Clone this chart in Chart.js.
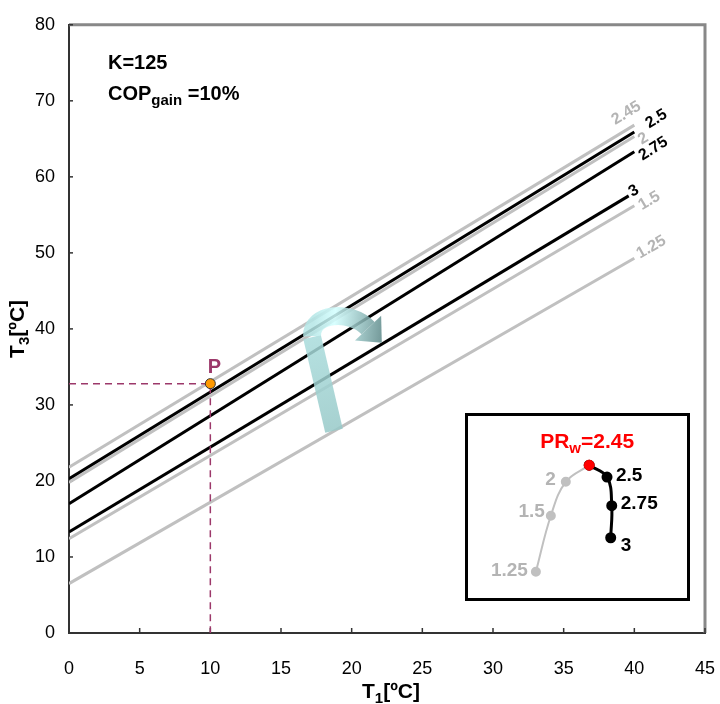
<!DOCTYPE html>
<html>
<head>
<meta charset="utf-8">
<script src="https://cdn.jsdelivr.net/npm/chart.js@4.4.1/dist/chart.umd.min.js"></script>
<style>
html, body { margin: 0; padding: 0; background: #fff; overflow: hidden; }
#wrap { position: relative; width: 720px; height: 704px; }
#main { display: block; }
#insetBox { position: absolute; left: 465px; top: 413px; width: 219px; height: 182px; border: 3px solid #000; background: #fff; }
#inset { display: block; }
</style>
</head>
<body>
<div id="wrap">
  <canvas id="main" width="720" height="704"></canvas>
  <div id="insetBox"><canvas id="inset" width="219" height="182"></canvas></div>
</div>
<script>
// main chart: T3 against T1, one line per pressure ratio
const t1Ticks = [0, 5, 10, 15, 20, 25, 30, 35, 40, 45];
const t3Ticks = [0, 10, 20, 30, 40, 50, 60, 70, 80];
const prLines = ['2.45', '2.5', '2', '2.75', '3', '1.5', '1.25'];
const t1Start = [0, 0, 0, 0, 0, 0, 0];
const t1End = [40, 40, 40, 40, 39.6, 40, 40];
const t3Start = [21.8, 20.3, 19.8, 17.0, 13.3, 12.4, 6.5];
const t3End = [66.8, 65.9, 65.3, 63.3, 57.5, 56.2, 49.3];
const pT1 = [10];
const pT3 = [32.8];

// inset curve
const insetPR = ['1.25', '1.5', '2', '2.45', '2.5', '2.75', '3'];
const insetX = [29.7, 37.0, 44.3, 55.7, 64.4, 66.7, 66.2];
const insetY = [11.5, 44.8, 65.0, 74.9, 67.8, 50.8, 31.7];
const optimumPR = '2.45';

const FONT = "'Liberation Sans', Arial, sans-serif";
const GRAY = '#c0c0c0';
const PURPLE = '#9c386a';

function isBlack(pr) { return parseFloat(pr) > parseFloat(optimumPR); }

function drawRich(ctx, parts, x, y, align) {
  let w = 0;
  parts.forEach(p => { ctx.font = 'bold ' + p[1] + 'px ' + FONT; w += ctx.measureText(p[0]).width; });
  let cx = align === 'center' ? x - w / 2 : (align === 'right' ? x - w : x);
  ctx.textAlign = 'left';
  ctx.textBaseline = 'alphabetic';
  parts.forEach(p => {
    ctx.font = 'bold ' + p[1] + 'px ' + FONT;
    ctx.fillText(p[0], cx, y + p[2]);
    cx += ctx.measureText(p[0]).width;
  });
}

const lineSets = prLines.map((pr, i) => ({
  label: pr,
  data: [{ x: t1Start[i], y: t3Start[i] }, { x: t1End[i], y: t3End[i] }],
  showLine: true,
  borderColor: isBlack(pr) ? '#000' : GRAY,
  borderWidth: 3,
  pointRadius: 0,
  order: isBlack(pr) ? 1 : 2
}));

// label offsets from line end, px
const endLabelOffset = { '2.45': [-8, -12], '2.5': [22, -13], '2': [9, 2], '2.75': [19, -3], '3': [5, -5], '1.5': [15, -5], '1.25': [17, -11] };
// curved arrow, in data units
const arrowPath = { p0: [18.75, 26.6], p1: [17.2, 39.05], c1: [17.13, 42.07], c2: [19.89, 42.6], p2: [21.16, 40.1] };

const mainDecor = {
  id: 'mainDecor',
  beforeDatasetsDraw(chart) {
    const { ctx, chartArea: a, scales: { x, y } } = chart;
    ctx.save();
    ctx.strokeStyle = '#888';
    ctx.lineWidth = 3;
    ctx.beginPath();
    ctx.moveTo(a.left, a.top);
    ctx.lineTo(a.right, a.top);
    ctx.lineTo(a.right, a.bottom);
    ctx.stroke();
    ctx.strokeStyle = '#333';
    ctx.lineWidth = 1.5;
    t1Ticks.forEach(v => {
      const px = x.getPixelForValue(v);
      ctx.beginPath(); ctx.moveTo(px, a.bottom); ctx.lineTo(px, a.bottom - 5); ctx.stroke();
    });
    t3Ticks.forEach(v => {
      const py = y.getPixelForValue(v);
      ctx.beginPath(); ctx.moveTo(a.left, py); ctx.lineTo(a.left + 4, py); ctx.stroke();
    });
    ctx.restore();
  },
  afterDatasetsDraw(chart) {
    const { ctx, chartArea: a, scales: { x, y } } = chart;
    const px = p => [x.getPixelForValue(p[0]), y.getPixelForValue(p[1])];
    ctx.save();

    // curved arrow
    const P0 = px(arrowPath.p0), P1 = px(arrowPath.p1), C1 = px(arrowPath.c1), C2 = px(arrowPath.c2), P2 = px(arrowPath.p2);
    ctx.globalAlpha = 0.85;
    ctx.lineCap = 'butt';
    const gShaft = ctx.createLinearGradient(P0[0], P0[1], P1[0], P1[1]);
    gShaft.addColorStop(0, '#97c9c8');
    gShaft.addColorStop(1, '#a9dcdc');
    ctx.strokeStyle = gShaft;
    ctx.lineWidth = 18;
    ctx.beginPath(); ctx.moveTo(P0[0], P0[1]); ctx.lineTo(P1[0], P1[1] + 1); ctx.stroke();
    let dx = P2[0] - C2[0], dy = P2[1] - C2[1];
    const dl = Math.hypot(dx, dy); dx /= dl; dy /= dl;
    const tip = [P2[0] + dx * 20, P2[1] + dy * 20];
    const gCurve = ctx.createLinearGradient(P1[0], P1[1], tip[0], tip[1]);
    gCurve.addColorStop(0, '#b4e6e6');
    gCurve.addColorStop(0.3, '#d2ffff');
    gCurve.addColorStop(1, '#5b8787');
    ctx.strokeStyle = gCurve;
    ctx.beginPath(); ctx.moveTo(P1[0], P1[1]); ctx.bezierCurveTo(C1[0], C1[1], C2[0], C2[1], P2[0], P2[1]); ctx.stroke();
    ctx.fillStyle = gCurve;
    ctx.beginPath();
    ctx.moveTo(P2[0] - dy * 18, P2[1] + dx * 18);
    ctx.lineTo(tip[0], tip[1]);
    ctx.lineTo(P2[0] + dy * 18, P2[1] - dx * 18);
    ctx.closePath();
    ctx.fill();
    ctx.globalAlpha = 1;

    // end labels
    prLines.forEach((pr, i) => {
      const sx = x.getPixelForValue(t1Start[i]), sy = y.getPixelForValue(t3Start[i]);
      const ex = x.getPixelForValue(t1End[i]), ey = y.getPixelForValue(t3End[i]);
      const ang = Math.atan2(ey - sy, ex - sx);
      const off = endLabelOffset[pr];
      ctx.save();
      ctx.translate(ex + off[0], ey + off[1]);
      ctx.rotate(ang);
      ctx.font = 'bold 16px ' + FONT;
      ctx.fillStyle = isBlack(pr) ? '#000' : '#b4b4b4';
      ctx.textAlign = 'center';
      ctx.textBaseline = 'middle';
      ctx.fillText(pr, 0, 0);
      ctx.restore();
    });

    // point P label
    ctx.fillStyle = PURPLE;
    ctx.font = 'bold 20px ' + FONT;
    ctx.textAlign = 'center';
    ctx.textBaseline = 'middle';
    ctx.fillText('P', x.getPixelForValue(pT1[0]) + 4, y.getPixelForValue(pT3[0]) - 16);

    // parameters
    ctx.fillStyle = '#000';
    drawRich(ctx, [['K=125', 20, 0]], a.left + 39, a.top + 44, 'left');
    drawRich(ctx, [['COP', 20, 0], ['gain', 15, 5], [' =10%', 20, 0]], a.left + 39, a.top + 75, 'left');
    ctx.restore();
  },
  afterDraw(chart) {
    const { ctx, chartArea: a } = chart;
    ctx.save();
    ctx.fillStyle = '#000';
    drawRich(ctx, [['T', 21, 0], ['1', 15, 5], ['[ºC]', 21, 0]], (a.left + a.right) / 2 + 4, a.bottom + 65, 'center');
    ctx.translate(24, (a.top + a.bottom) / 2);
    ctx.rotate(-Math.PI / 2);
    drawRich(ctx, [['T', 21, 0], ['3', 15, 5], ['[ºC]', 21, 0]], 0, 0, 'center');
    ctx.restore();
  }
};

new Chart(document.getElementById('main'), {
  type: 'scatter',
  data: {
    datasets: [
      {
        label: 'P',
        data: [{ x: pT1[0], y: pT3[0] }],
        pointRadius: 5,
        pointBackgroundColor: '#ff9900',
        pointBorderColor: '#333',
        pointBorderWidth: 1,
        order: 0
      },
      {
        label: 'P guide',
        data: [{ x: 0, y: pT3[0] }, { x: pT1[0], y: pT3[0] }, { x: pT1[0], y: 0 }],
        showLine: true,
        borderColor: PURPLE,
        borderWidth: 1.5,
        borderDash: [7, 5],
        pointRadius: 0,
        order: 0.5
      }
    ].concat(lineSets)
  },
  options: {
    responsive: false,
    animation: false,
    layout: { padding: { top: 23, right: 15, left: 0, bottom: 0 } },
    plugins: { legend: { display: false }, tooltip: { enabled: false } },
    scales: {
      x: {
        type: 'linear', min: 0, max: 45,
        afterBuildTicks: s => { s.ticks = t1Ticks.map(v => ({ value: v })); },
        afterFit: s => { s.height = 71; },
        ticks: { padding: 2, color: '#000', font: { family: FONT, size: 18 } },
        grid: { display: false, drawTicks: true, tickLength: 23 },
        border: { color: '#333', width: 2 }
      },
      y: {
        type: 'linear', min: 0, max: 80,
        afterBuildTicks: s => { s.ticks = t3Ticks.map(v => ({ value: v })); },
        afterFit: s => { s.width = 69; },
        ticks: { padding: 14, color: '#000', font: { family: FONT, size: 18 } },
        grid: { display: false, drawTicks: false },
        border: { color: '#333', width: 2 }
      }
    }
  },
  plugins: [mainDecor]
});

// inset
const optIdx = insetPR.indexOf(optimumPR);
const insetPts = insetPR.map((pr, i) => ({ x: insetX[i], y: insetY[i] }));
const insetLabelStyle = {
  '1.25': ['right', -8, 4], '1.5': ['right', -6, 1], '2': ['right', -10, 3],
  '2.5': ['left', 9, 4], '2.75': ['left', 9, 3], '3': ['left', 10, 13]
};
const insetDecor = {
  id: 'insetDecor',
  afterDatasetsDraw(chart) {
    const { ctx, scales: { x, y } } = chart;
    ctx.save();
    insetPR.forEach((pr, i) => {
      const px = x.getPixelForValue(insetX[i]), py = y.getPixelForValue(insetY[i]);
      if (pr === optimumPR) {
        ctx.fillStyle = '#ff0000';
        drawRich(ctx, [['PR', 21, 0], ['w', 15, 5], ['=' + pr, 21, 0]], px - 2, py - 17, 'center');
        return;
      }
      const st = insetLabelStyle[pr];
      ctx.fillStyle = isBlack(pr) ? '#000' : '#b4b4b4';
      drawRich(ctx, [[pr, 19, 0]], px + st[1], py + st[2], st[0]);
    });
    ctx.restore();
  }
};

new Chart(document.getElementById('inset'), {
  type: 'scatter',
  data: {
    datasets: [
      {
        label: 'optimum',
        data: [insetPts[optIdx]],
        pointRadius: 5,
        pointBackgroundColor: '#ff0000',
        pointBorderColor: '#ff0000',
        order: 0
      },
      {
        label: 'high PR',
        data: insetPts.slice(optIdx),
        showLine: true,
        tension: 0.4,
        borderColor: '#000',
        borderWidth: 3,
        pointRadius: 4,
        pointBackgroundColor: '#000',
        pointBorderColor: '#000',
        order: 1
      },
      {
        label: 'low PR',
        data: insetPts.slice(0, optIdx + 1),
        showLine: true,
        tension: 0.4,
        borderColor: GRAY,
        borderWidth: 2,
        pointRadius: 4,
        pointBackgroundColor: GRAY,
        pointBorderColor: GRAY,
        order: 2
      }
    ]
  },
  options: {
    responsive: false,
    animation: false,
    layout: { padding: 0 },
    plugins: { legend: { display: false }, tooltip: { enabled: false } },
    scales: {
      x: { type: 'linear', min: 0, max: 100, display: false },
      y: { type: 'linear', min: 0, max: 100, display: false }
    }
  },
  plugins: [insetDecor]
});
</script>
</body>
</html>
